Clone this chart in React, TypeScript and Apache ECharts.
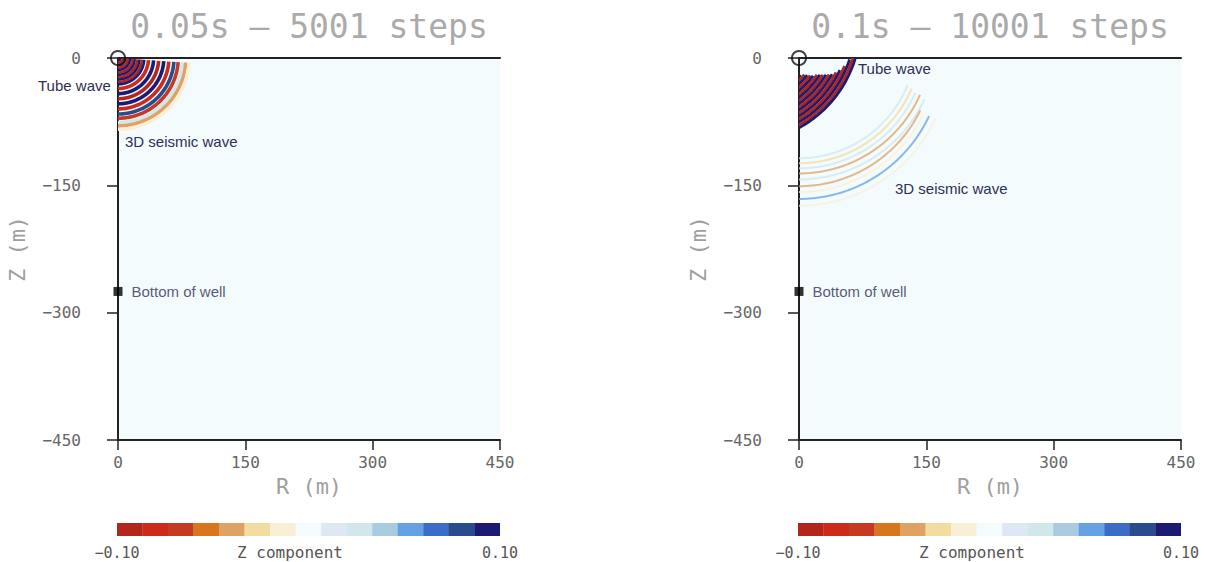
import React, { useEffect, useRef } from "react";
import * as echarts from "echarts";

// ---------- colour scale (Z component, -0.10 .. 0.10, 15 levels) ----------
const PALETTE = [
  "#b3261c", "#cc2a1a", "#c43a22", "#d7761f", "#e0a263",
  "#f3dca0", "#f9efd9", "#f3fbfd", "#dde8f4", "#d1e7ec",
  "#a8cbe0", "#64a0e2", "#3b6cc7", "#2a4b8c", "#1b1b74",
];
const AMP_MIN = -0.1;
const AMP_MAX = 0.1;
const COLORBAR_LEVELS = PALETTE.map((_, i) => `L${i + 1}`);

// ---------- axes ----------
const R_MIN = 0, R_MAX = 450, Z_MIN = -450, Z_MAX = 0, TICK_STEP = 150;

// ---------- well ----------
const SOURCE = [0, 0];
const WELL_BOTTOM = [0, -275];

// ---------- panel 1 : 0.05 s (wavefronts around the source) ----------
const p1InnerRadius = [3, 5.8, 8.6, 11.4, 14.2, 17, 19.8, 22.6, 25.4, 28.2, 31];
const p1InnerAmp = [0.1, -0.1, 0.1, -0.1, 0.1, -0.1, 0.1, -0.1, 0.1, -0.1, 0.1];
const p1OuterRadius = [36, 42, 48, 54, 60, 66, 71, 76, 80, 84];
const p1OuterAmp = [-0.08, 0.09, -0.09, 0.095, -0.08, 0.085, -0.07, 0.03, -0.04, -0.015];
const p1StartDeg = -90;
const p1EndDeg = -4;

// ---------- panel 2 : 0.1 s ----------
const p2TubeCenter = [-66, 39];
const p2TubeRadius = [90, 93, 96, 99, 102, 105, 108, 111, 114, 117, 120, 123, 126, 129, 132, 135, 138];
const p2TubeAmp = [0.1, -0.1, 0.1, -0.1, 0.1, -0.1, 0.1, -0.1, 0.1, -0.1, 0.1, -0.1, 0.1, -0.1, 0.1, -0.1, 0.1];
const p2TubeEndDeg = [-41, -39, -38, -37, -36, -34, -33, -32, -31, -30, -29, -27, -25, -22, -18, -14, -10];
const p2SeisCenterZ = [20, 20, 20, 20, 20, 8, 5, 3, 3];
const p2SeisRadius = [138, 144, 150, 156, 163, 159, 163, 169, 177];
const p2SeisAmp = [0.025, -0.025, 0.03, -0.04, 0.03, -0.045, -0.02, 0.05, -0.02];
const p2SeisEndDeg = [-22, -23, -24, -24, -25, -26, -26, -25, -25];

const ampColor = (a: number) => {
  const step = (AMP_MAX - AMP_MIN) / PALETTE.length;
  let i = Math.floor((a - AMP_MIN) / step);
  if (i < 0) i = 0;
  if (i > PALETTE.length - 1) i = PALETTE.length - 1;
  return PALETTE[i];
};

const MONO = "'DejaVu Sans Mono', monospace";
const SANS = "'Liberation Sans', Arial, sans-serif";

const arcRenderer = (width: number, opacity: number) => (params: any, api: any) => {
  const cx = api.value(0);
  const cz = api.value(1);
  const r = api.value(2);
  const amp = api.value(3);
  const a0 = api.value(4);
  const a1 = api.value(5);
  const n = Math.max(8, Math.ceil(Math.abs(a1 - a0) * 1.5));
  const pts: number[][] = [];
  for (let k = 0; k <= n; k++) {
    const a = ((a0 + ((a1 - a0) * k) / n) * Math.PI) / 180;
    pts.push(api.coord([cx + r * Math.cos(a), cz + r * Math.sin(a)]));
  }
  return {
    type: "polyline",
    shape: { points: pts },
    style: { stroke: ampColor(amp), lineWidth: width, fill: "none", opacity },
    silent: true,
  };
};

export default function App() {
  const ref = useRef<HTMLDivElement>(null);

  useEffect(() => {
    if (!ref.current) return;
    const chart = echarts.init(ref.current, null, { renderer: "svg" });

    const grids = [
      { left: 118, top: 58, width: 382, height: 382 },
      { left: 799, top: 58, width: 382, height: 382 },
    ];
    const axisLine = { show: true, onZero: false, lineStyle: { color: "#222", width: 2 } };
    const minusFmt = (v: number) => String(v).replace("-", "\u2212");

    const xAxes: any[] = [];
    const yAxes: any[] = [];
    const gridOpts: any[] = [];
    grids.forEach((g, i) => {
      gridOpts.push({ ...g, show: true, backgroundColor: "#f3fbfd", borderWidth: 0 });
      xAxes.push({
        gridIndex: i, type: "value", min: R_MIN, max: R_MAX, interval: TICK_STEP, position: "bottom",
        axisLine, axisTick: { show: true, length: 10, lineStyle: { color: "#222", width: 1.5 } },
        axisLabel: { margin: 14, color: "#666", fontFamily: MONO, fontSize: 16, formatter: minusFmt },
        splitLine: { show: false },
        name: "R (m)", nameLocation: "middle", nameGap: 35,
        nameTextStyle: { color: "#a0a0a0", fontFamily: MONO, fontSize: 22 },
      });
      xAxes.push({
        gridIndex: i, type: "value", min: R_MIN, max: R_MAX, position: "top",
        axisLine, axisTick: { show: false }, axisLabel: { show: false }, splitLine: { show: false },
      });
      yAxes.push({
        gridIndex: i, type: "value", min: Z_MIN, max: Z_MAX, interval: TICK_STEP,
        axisLine, axisTick: { show: true, length: 11, lineStyle: { color: "#222", width: 1.5 } },
        axisLabel: { margin: 37, color: "#666", fontFamily: MONO, fontSize: 16, formatter: minusFmt },
        splitLine: { show: false },
        name: "Z (m)", nameLocation: "middle", nameGap: 90, nameRotate: 90,
        nameTextStyle: { color: "#a0a0a0", fontFamily: MONO, fontSize: 22 },
      });
    });

    const cbGrids = [
      { left: 117, top: 523, width: 383, height: 13 },
      { left: 798, top: 523, width: 383, height: 13 },
    ];
    const cbFirstX = xAxes.length;
    const cbFirstY = yAxes.length;
    cbGrids.forEach((g, j) => {
      const gi = grids.length + j;
      gridOpts.push({ ...g, show: false });
      xAxes.push({ gridIndex: gi, type: "category", data: COLORBAR_LEVELS, show: false });
      xAxes.push({
        gridIndex: gi, type: "value", min: AMP_MIN, max: AMP_MAX, interval: 0.1, position: "bottom",
        axisLine: { show: false }, axisTick: { show: false }, splitLine: { show: false },
        axisLabel: {
          margin: 9, color: "#555", fontFamily: MONO, fontSize: 15,
          formatter: (v: number) => (Math.abs(v) < 1e-9 ? "" : (v < 0 ? "\u2212" : "") + Math.abs(v).toFixed(2)),
        },
      });
      yAxes.push({ gridIndex: gi, type: "value", min: 0, max: 1, show: false });
    });

    const arcRows = (cx: number[] | number, cz: number[] | number, radius: number[], amp: number[], a0: number, a1: number[] | number) =>
      radius.map((r, i) => [
        Array.isArray(cx) ? cx[i] : cx,
        Array.isArray(cz) ? cz[i] : cz,
        r,
        amp[i],
        a0,
        Array.isArray(a1) ? a1[i] : a1,
      ]);

    const series: any[] = [
      {
        type: "custom", xAxisIndex: 0, yAxisIndex: 0, clip: true, silent: true,
        renderItem: arcRenderer(3.6, 1),
        data: arcRows(SOURCE[0], SOURCE[1], p1OuterRadius, p1OuterAmp, p1StartDeg, p1EndDeg),
      },
      {
        type: "custom", xAxisIndex: 0, yAxisIndex: 0, clip: true, silent: true,
        renderItem: arcRenderer(2.6, 1),
        data: arcRows(SOURCE[0], SOURCE[1], p1InnerRadius, p1InnerAmp, p1StartDeg, p1EndDeg),
      },
      {
        type: "custom", xAxisIndex: 2, yAxisIndex: 1, clip: true, silent: true,
        renderItem: arcRenderer(2, 0.75),
        data: arcRows(0, p2SeisCenterZ, p2SeisRadius, p2SeisAmp, -90, p2SeisEndDeg),
      },
      {
        type: "custom", xAxisIndex: 2, yAxisIndex: 1, clip: true, silent: true,
        renderItem: arcRenderer(2.8, 1),
        data: arcRows(p2TubeCenter[0], p2TubeCenter[1], p2TubeRadius, p2TubeAmp, -90, p2TubeEndDeg),
      },
    ];

    [0, 1].forEach((i) => {
      series.push({
        type: "scatter", xAxisIndex: i * 2, yAxisIndex: i, clip: false, silent: true, z: 5,
        symbol: "circle", symbolSize: 14,
        itemStyle: { color: "rgba(0,0,0,0)", borderColor: "#111", borderWidth: 2 },
        data: [SOURCE],
      });
      series.push({
        type: "scatter", xAxisIndex: i * 2, yAxisIndex: i, clip: false, silent: true, z: 5,
        symbol: "rect", symbolSize: 9,
        itemStyle: { color: "#000" },
        label: {
          show: true, position: "right", distance: 9, formatter: "Bottom of well",
          color: "#2f2f55", fontFamily: SANS, fontSize: 15,
        },
        data: [WELL_BOTTOM],
      });
      series.push({
        type: "bar", xAxisIndex: cbFirstX + i * 2, yAxisIndex: cbFirstY + i, silent: true,
        barCategoryGap: "0%", barWidth: "101%",
        data: PALETTE.map((c) => ({ value: 1, itemStyle: { color: c } })),
      });
    });

    const txt = (text: string, x: number, y: number, font: string, size: number, fill: string, align = "left") => ({
      type: "text", x, y, silent: true,
      style: { text, fill, fontFamily: font, fontSize: size, align, verticalAlign: "middle" },
    });

    chart.setOption({
      animation: false,
      backgroundColor: "#ffffff",
      grid: gridOpts,
      xAxis: xAxes,
      yAxis: yAxes,
      series,
      graphic: [
        txt("0.05s \u2014 5001 steps", 309, 26, MONO, 33, "#aaa", "center"),
        txt("0.1s \u2014 10001 steps", 990, 26, MONO, 33, "#aaa", "center"),
        txt("Tube wave", 38, 85, SANS, 15, "#2f2f55"),
        txt("3D seismic wave", 125, 141, SANS, 15, "#2f2f55"),
        txt("Tube wave", 858, 68, SANS, 15, "#2f2f55"),
        txt("3D seismic wave", 895, 188, SANS, 15, "#2f2f55"),
        txt("Z component", 290, 552, MONO, 16, "#555", "center"),
        txt("Z component", 972, 552, MONO, 16, "#555", "center"),
      ],
    });

    return () => chart.dispose();
  }, []);

  return (
    <div
      ref={ref}
      style={{ position: "fixed", left: 0, top: 0, width: 1209, height: 562, background: "#fff" }}
    />
  );
}
